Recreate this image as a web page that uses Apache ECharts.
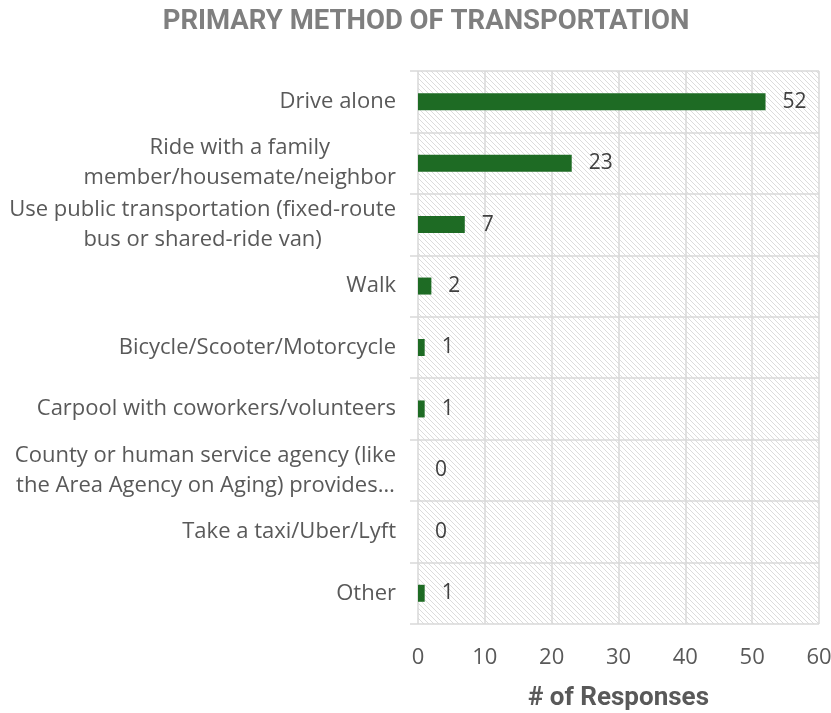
<!DOCTYPE html>
<html>
<head>
<meta charset="utf-8">
<script src="https://cdn.jsdelivr.net/npm/echarts@6/dist/echarts.min.js"></script>
<style>
  html, body { margin: 0; padding: 0; background: #fff; }
  #chart { width: 831px; height: 713px; }
</style>
</head>
<body>
<div id="chart"></div>
<script>
// categories, top to bottom
const categories = [
  'Drive alone',
  'Ride with a family\nmember/housemate/neighbor',
  'Use public transportation (fixed-route\nbus or shared-ride van)',
  'Walk',
  'Bicycle/Scooter/Motorcycle',
  'Carpool with coworkers/volunteers',
  'County or human service agency (like\nthe Area Agency on Aging) provides…',
  'Take a taxi/Uber/Lyft',
  'Other'
]
const responses = [52, 23, 7, 2, 1, 1, 0, 0, 1]
const xTicks = [0, 10, 20, 30, 40, 50, 60]

// diagonal hatch for the plot background
const makeHatch = () => {
  const size = 5
  const c = document.createElement('canvas')
  c.width = size
  c.height = size
  const ctx = c.getContext('2d')
  ctx.fillStyle = '#ffffff'
  ctx.fillRect(0, 0, size, size)
  ctx.strokeStyle = '#dcdcdc'
  ctx.lineWidth = 1
  ctx.beginPath()
  ctx.moveTo(-1, -1)
  ctx.lineTo(size + 1, size + 1)
  ctx.moveTo(-1, size - 1)
  ctx.lineTo(1, size + 1)
  ctx.moveTo(size - 1, -1)
  ctx.lineTo(size + 1, 1)
  ctx.stroke()
  return c
}

const chart = echarts.init(document.getElementById('chart'))
const gridColor = '#d9d9d9'
const font = 'Open Sans'

const option = {
  backgroundColor: '#ffffff',
  title: {
    text: 'PRIMARY METHOD OF TRANSPORTATION',
    left: 421,
    textAlign: 'center',
    top: 3,
    textStyle: {
      fontFamily: 'Roboto',
      fontWeight: 'bold',
      fontSize: 27.5,
      color: '#7f7f7f'
    }
  },
  grid: {
    left: 418,
    right: 12,
    top: 71,
    bottom: 89,
    outerBoundsMode: 'none',
    containLabel: false,
    show: true,
    borderWidth: 0,
    backgroundColor: { image: makeHatch(), repeat: 'repeat' }
  },
  xAxis: {
    type: 'value',
    min: xTicks[0],
    max: xTicks[xTicks.length - 1],
    interval: 10,
    axisLine: { show: false },
    axisTick: { show: false },
    splitLine: { lineStyle: { color: gridColor, width: 1.5 } },
    axisLabel: {
      margin: 23,
      fontFamily: font,
      fontSize: 22,
      color: '#595959'
    },
    name: '# of Responses',
    nameLocation: 'middle',
    nameGap: 61,
    nameTextStyle: {
      fontFamily: 'Roboto',
      fontWeight: 'bold',
      fontSize: 26,
      color: '#595959'
    }
  },
  yAxis: {
    type: 'category',
    inverse: true,
    data: categories,
    axisLine: { show: false },
    axisTick: { show: true, length: 8, lineStyle: { color: gridColor, width: 1.5 } },
    splitLine: { show: true, lineStyle: { color: gridColor, width: 1.5 } },
    axisLabel: {
      margin: 22,
      fontFamily: font,
      fontSize: 22,
      color: '#595959',
      formatter: (v) => v.split('\n').map((s) => '{c|' + s + '}').join('\n'),
      rich: {
        c: {
          align: 'center',
          fontFamily: font,
          fontSize: 22,
          lineHeight: 30,
          color: '#595959'
        }
      }
    }
  },
  series: [
    {
      type: 'bar',
      data: responses,
      barWidth: 17,
      itemStyle: { color: '#1e6b24' },
      label: {
        show: true,
        position: 'right',
        distance: 17,
        fontFamily: font,
        fontSize: 21,
        color: '#404040'
      }
    }
  ]
}

chart.setOption(option)
</script>
</body>
</html>
